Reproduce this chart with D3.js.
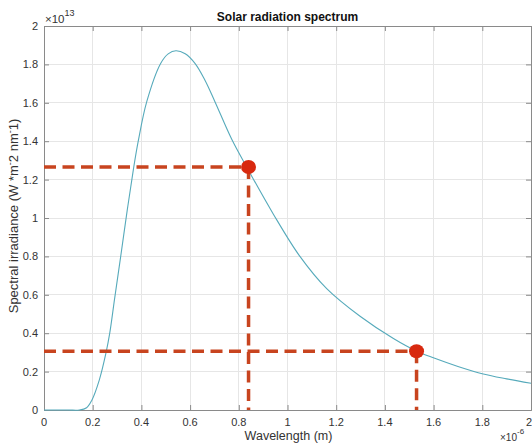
<!DOCTYPE html>
<html>
<head>
<meta charset="utf-8">
<script src="https://cdn.jsdelivr.net/npm/d3@7"></script>
<style>
  html, body { margin: 0; padding: 0; background: #fff; }
  svg { display: block; font-family: "Liberation Sans", Arial, Helvetica, sans-serif; }
</style>
</head>
<body>
<svg id="chart" width="532" height="443"></svg>
<script>
// Wavelength in units of 1e-6 m, irradiance in units of 1e13
const wavelength = [0, 0.10, 0.145, 0.175, 0.196, 0.227, 0.255, 0.27, 0.29, 0.315, 0.342, 0.367, 0.387, 0.422, 0.479, 0.51, 0.542, 0.58, 0.620, 0.66, 0.702, 0.771, 0.834, 0.942, 1.051, 1.161, 1.298, 1.435, 1.526, 1.599, 1.70, 1.804, 1.90, 2.0];
const irradiance = [0, 0, 0, 0.012, 0.05, 0.156, 0.30, 0.40, 0.58, 0.80, 1.042, 1.252, 1.40, 1.606, 1.805, 1.855, 1.871, 1.855, 1.805, 1.72, 1.606, 1.41, 1.262, 1.02, 0.80, 0.632, 0.488, 0.372, 0.309, 0.272, 0.227, 0.1875, 0.162, 0.139];
const markX = [0.84, 1.53];
const markY = [1.266, 0.306];
const xTicks = [0, 0.2, 0.4, 0.6, 0.8, 1, 1.2, 1.4, 1.6, 1.8, 2];
const yTicks = [0, 0.2, 0.4, 0.6, 0.8, 1, 1.2, 1.4, 1.6, 1.8, 2];
const titleText = "Solar radiation spectrum";
const xLabel = "Wavelength (m)";

const svg = d3.select("#chart");
const L = 44, R = 531, T = 26, B = 410;
const x = d3.scaleLinear().domain([0, 2]).range([L, R]);
const y = d3.scaleLinear().domain([0, 2]).range([B, T]);

const axisColor = "#8a8a8a", textColor = "#333", gridColor = "#e6e6e6";

// grid
svg.append("g").selectAll("line").data(xTicks).join("line")
  .attr("x1", d => x(d)).attr("x2", d => x(d)).attr("y1", T).attr("y2", B)
  .attr("stroke", gridColor).attr("stroke-width", 1).attr("shape-rendering", "crispEdges");
svg.append("g").selectAll("line").data(yTicks).join("line")
  .attr("y1", d => y(d)).attr("y2", d => y(d)).attr("x1", L).attr("x2", R)
  .attr("stroke", gridColor).attr("stroke-width", 1).attr("shape-rendering", "crispEdges");

// axes (inward ticks, box)
const fmt = d3.format("~g");
const gx = svg.append("g").attr("transform", `translate(0,${B})`)
  .call(d3.axisTop(x).tickValues(xTicks).tickSize(5).tickFormat(""));
const gxTop = svg.append("g").attr("transform", `translate(0,${T})`)
  .call(d3.axisBottom(x).tickValues(xTicks).tickSize(5).tickFormat(""));
const gy = svg.append("g").attr("transform", `translate(${L},0)`)
  .call(d3.axisRight(y).tickValues(yTicks).tickSize(5).tickFormat(""));
const gyR = svg.append("g").attr("transform", `translate(${R},0)`)
  .call(d3.axisLeft(y).tickValues(yTicks).tickSize(5).tickFormat(""));
[gx, gxTop, gy, gyR].forEach(g => {
  g.selectAll("path.domain").attr("stroke", axisColor);
  g.selectAll(".tick line").attr("stroke", axisColor);
});

// tick labels (last one kept inside the page edge)
svg.append("g").selectAll("text").data(xTicks).join("text")
  .attr("x", (d, i) => i === xTicks.length - 1 ? 532 : x(d)).attr("y", B + 16)
  .attr("text-anchor", (d, i) => i === xTicks.length - 1 ? "end" : "middle")
  .attr("font-size", 11).attr("fill", textColor).text(d => fmt(d));
svg.append("g").selectAll("text").data(yTicks).join("text")
  .attr("x", L - 6).attr("y", d => y(d) + 4).attr("text-anchor", "end")
  .attr("font-size", 11).attr("fill", textColor).text(d => fmt(d));

// exponent labels
const e1 = svg.append("text").attr("x", 45).attr("y", 23).attr("font-size", 11.5).attr("fill", textColor);
e1.append("tspan").text("×10");
e1.append("tspan").attr("dy", -7).attr("font-size", 9).text("13");
const e2 = svg.append("text").attr("x", 500).attr("y", 441).attr("font-size", 10).attr("fill", textColor);
e2.append("tspan").text("×10");
e2.append("tspan").attr("dy", -7).attr("font-size", 8).text("-6");

// title and labels
svg.append("text").attr("x", (L + R) / 2).attr("y", 21).attr("text-anchor", "middle")
  .attr("font-size", 12).attr("font-weight", "bold").attr("fill", "#111").text(titleText);
svg.append("text").attr("x", (L + R) / 2 + 1).attr("y", 440).attr("text-anchor", "middle")
  .attr("font-size", 12.5).attr("fill", textColor).text(xLabel);
const yl = svg.append("text").attr("transform", `translate(18,${(T + B) / 2 - 2}) rotate(-90)`)
  .attr("text-anchor", "middle").attr("font-size", 13).attr("fill", textColor);
yl.append("tspan").text("Spectral irradiance (W *m");
yl.append("tspan").attr("dy", -5).attr("font-size", 9).text("-");
yl.append("tspan").attr("dy", 5).text("2 nm");
yl.append("tspan").attr("dy", -5).attr("font-size", 9).text("-");
yl.append("tspan").attr("dy", 5).text("1)");

// curve
const pts = wavelength.map((w, i) => [w, irradiance[i]]);
svg.append("path").datum(pts)
  .attr("d", d3.line().x(d => x(d[0])).y(d => y(d[1])).curve(d3.curveCatmullRom.alpha(0.5)))
  .attr("fill", "none").attr("stroke", "#56aabb").attr("stroke-width", 1.1);

// dashed guide lines
const dashColor = "#c8441f";
markX.forEach((mx, i) => {
  const my = markY[i];
  svg.append("line").attr("x1", x(0)).attr("x2", x(mx)).attr("y1", y(my)).attr("y2", y(my))
    .attr("stroke", dashColor).attr("stroke-width", 3.5).attr("stroke-dasharray", "12,6.5");
  svg.append("line").attr("x1", x(mx)).attr("x2", x(mx)).attr("y1", y(my)).attr("y2", y(0))
    .attr("stroke", dashColor).attr("stroke-width", 3.5).attr("stroke-dasharray", "12,6.5");
});
svg.append("g").selectAll("ellipse").data(markX).join("ellipse")
  .attr("cx", d => x(d)).attr("cy", (d, i) => y(markY[i]))
  .attr("rx", 7.5).attr("ry", 7).attr("fill", "#d8290f");
</script>
</body>
</html>
